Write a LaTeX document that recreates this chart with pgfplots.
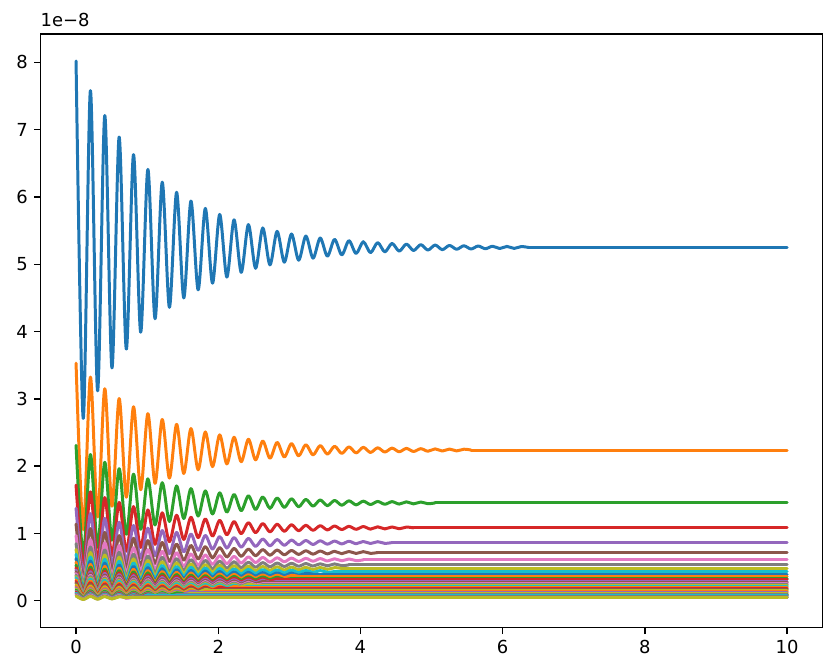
\documentclass[border=0pt]{standalone}
\usepackage{pgfplots}
\pgfplotsset{compat=1.18}
\usepackage{fontspec}
\setmainfont{DejaVu Sans}
\definecolor{C0}{HTML}{1F77B4}
\definecolor{C1}{HTML}{FF7F0E}
\definecolor{C2}{HTML}{2CA02C}
\definecolor{C3}{HTML}{D62728}
\definecolor{C4}{HTML}{9467BD}
\definecolor{C5}{HTML}{8C564B}
\definecolor{C6}{HTML}{E377C2}
\definecolor{C7}{HTML}{7F7F7F}
\definecolor{C8}{HTML}{BCBD22}
\definecolor{C9}{HTML}{17BECF}
% #1 colour, #2 oscillating part, #3 x where it settles, #4 settled value
\newcommand{\curve}[4]{%
  \addplot[#1,smooth,tension=0.5] coordinates {#2};
  \addplot[#1] coordinates {(#3,#4) (10,#4)};
}
\begin{document}
\begin{tikzpicture}
\begin{axis}[name=ax, scale only axis, width=782.1bp, height=593.6bp,
  xmin=-0.5, xmax=10.5, ymin=-0.40, ymax=8.42,
  xtick={0,2,4,6,8,10}, ytick={0,1,2,3,4,5,6,7,8},
  tick align=outside, tickpos=left, major tick length=6.3bp,
  tick style={line width=1.4pt, black}, axis line style={line width=1.4pt},
  /pgf/number format/assume math mode=true,
  ticklabel style={font=\fontsize{18}{20}\selectfont, inner sep=0pt},
  xticklabel style={yshift=-6.3bp}, yticklabel style={xshift=-6.3bp},
  every axis plot/.append style={line width=3pt, line join=round, line cap=round},
]
\curve{C0}{(0,8.02) (0.101,2.71) (0.202,7.58) (0.303,3.12) (0.404,7.21) (0.505,3.46) (0.606,6.89) (0.707,3.74) (0.808,6.63) (0.909,3.99) (1.01,6.41) (1.111,4.19) (1.212,6.22) (1.313,4.36) (1.414,6.07) (1.515,4.50) (1.616,5.94) (1.717,4.62) (1.818,5.83) (1.919,4.72) (2.02,5.74) (2.121,4.81) (2.222,5.66) (2.323,4.88) (2.424,5.59) (2.525,4.94) (2.626,5.54) (2.727,4.99) (2.828,5.49) (2.929,5.03) (3.03,5.45) (3.131,5.06) (3.232,5.42) (3.333,5.09) (3.434,5.39) (3.535,5.12) (3.636,5.37) (3.737,5.14) (3.838,5.35) (3.939,5.16) (4.04,5.335) (4.141,5.172) (4.242,5.322) (4.343,5.184) (4.444,5.31) (4.545,5.195) (4.646,5.30) (4.747,5.204) (4.848,5.292) (4.949,5.211) (5.05,5.286) (5.151,5.217) (5.252,5.28) (5.353,5.223) (5.454,5.275) (5.555,5.227) (5.656,5.271) (5.757,5.231) (5.858,5.268) (5.959,5.234) (6.06,5.265) (6.161,5.236) (6.262,5.263) (6.363,5.25)}{6.363}{5.25}
\curve{C1}{(0,3.53) (0.101,1.058) (0.202,3.324) (0.303,1.247) (0.404,3.151) (0.505,1.405) (0.606,3.005) (0.707,1.539) (0.808,2.883) (0.909,1.651) (1.01,2.78) (1.111,1.745) (1.212,2.694) (1.313,1.824) (1.414,2.621) (1.515,1.891) (1.616,2.56) (1.717,1.946) (1.818,2.509) (1.919,1.993) (2.02,2.466) (2.121,2.033) (2.222,2.43) (2.323,2.066) (2.424,2.40) (2.525,2.094) (2.626,2.374) (2.727,2.117) (2.828,2.353) (2.929,2.137) (3.03,2.335) (3.131,2.153) (3.232,2.32) (3.333,2.167) (3.434,2.307) (3.535,2.179) (3.636,2.296) (3.737,2.189) (3.838,2.287) (3.939,2.197) (4.04,2.28) (4.141,2.204) (4.242,2.273) (4.343,2.21) (4.444,2.268) (4.545,2.214) (4.646,2.264) (4.747,2.218) (4.848,2.26) (4.949,2.222) (5.05,2.257) (5.151,2.225) (5.252,2.254) (5.353,2.227) (5.454,2.252) (5.555,2.24)}{5.555}{2.24}
\curve{C2}{(0,2.31) (0.101,0.669) (0.202,2.173) (0.303,0.795) (0.404,2.058) (0.505,0.90) (0.606,1.962) (0.707,0.989) (0.808,1.881) (0.909,1.063) (1.01,1.812) (1.111,1.126) (1.212,1.755) (1.313,1.178) (1.414,1.707) (1.515,1.222) (1.616,1.667) (1.717,1.259) (1.818,1.633) (1.919,1.29) (2.02,1.604) (2.121,1.317) (2.222,1.58) (2.323,1.339) (2.424,1.56) (2.525,1.357) (2.626,1.543) (2.727,1.373) (2.828,1.529) (2.929,1.386) (3.03,1.517) (3.131,1.396) (3.232,1.507) (3.333,1.406) (3.434,1.498) (3.535,1.413) (3.636,1.491) (3.737,1.42) (3.838,1.485) (3.939,1.425) (4.04,1.48) (4.141,1.43) (4.242,1.476) (4.343,1.434) (4.444,1.473) (4.545,1.437) (4.646,1.47) (4.747,1.44) (4.848,1.467) (4.949,1.442) (5.05,1.454)}{5.05}{1.454}
\curve{C3}{(0,1.72) (0.101,0.499) (0.202,1.618) (0.303,0.592) (0.404,1.533) (0.505,0.671) (0.606,1.461) (0.707,0.737) (0.808,1.40) (0.909,0.792) (1.01,1.35) (1.111,0.839) (1.212,1.307) (1.313,0.878) (1.414,1.271) (1.515,0.911) (1.616,1.241) (1.717,0.938) (1.818,1.216) (1.919,0.961) (2.02,1.195) (2.121,0.981) (2.222,1.177) (2.323,0.997) (2.424,1.162) (2.525,1.011) (2.626,1.149) (2.727,1.022) (2.828,1.139) (2.929,1.032) (3.03,1.13) (3.131,1.04) (3.232,1.122) (3.333,1.047) (3.434,1.116) (3.535,1.053) (3.636,1.111) (3.737,1.058) (3.838,1.106) (3.939,1.062) (4.04,1.103) (4.141,1.065) (4.242,1.099) (4.343,1.068) (4.444,1.097) (4.545,1.07) (4.646,1.095) (4.747,1.083)}{4.747}{1.083}
\curve{C4}{(0,1.375) (0.101,0.398) (0.202,1.294) (0.303,0.472) (0.404,1.225) (0.505,0.535) (0.606,1.168) (0.707,0.588) (0.808,1.119) (0.909,0.632) (1.01,1.079) (1.111,0.669) (1.212,1.044) (1.313,0.701) (1.414,1.016) (1.515,0.727) (1.616,0.992) (1.717,0.749) (1.818,0.971) (1.919,0.768) (2.02,0.954) (2.121,0.783) (2.222,0.94) (2.323,0.796) (2.424,0.928) (2.525,0.807) (2.626,0.918) (2.727,0.816) (2.828,0.91) (2.929,0.824) (3.03,0.902) (3.131,0.831) (3.232,0.896) (3.333,0.836) (3.434,0.891) (3.535,0.841) (3.636,0.887) (3.737,0.845) (3.838,0.884) (3.939,0.848) (4.04,0.881) (4.141,0.851) (4.242,0.878) (4.343,0.853) (4.444,0.865)}{4.444}{0.865}
\curve{C5}{(0,1.14) (0.101,0.329) (0.202,1.072) (0.303,0.391) (0.404,1.016) (0.505,0.443) (0.606,0.968) (0.707,0.487) (0.808,0.928) (0.909,0.524) (1.01,0.894) (1.111,0.555) (1.212,0.866) (1.313,0.581) (1.414,0.842) (1.515,0.602) (1.616,0.822) (1.717,0.621) (1.818,0.805) (1.919,0.636) (2.02,0.791) (2.121,0.649) (2.222,0.779) (2.323,0.66) (2.424,0.769) (2.525,0.669) (2.626,0.761) (2.727,0.677) (2.828,0.754) (2.929,0.683) (3.03,0.748) (3.131,0.689) (3.232,0.743) (3.333,0.693) (3.434,0.739) (3.535,0.697) (3.636,0.735) (3.737,0.70) (3.838,0.733) (3.939,0.703) (4.04,0.73) (4.141,0.705) (4.242,0.717)}{4.242}{0.717}
\curve{C6}{(0,0.968) (0.101,0.278) (0.202,0.911) (0.303,0.331) (0.404,0.862) (0.505,0.375) (0.606,0.822) (0.707,0.412) (0.808,0.787) (0.909,0.444) (1.01,0.759) (1.111,0.47) (1.212,0.735) (1.313,0.492) (1.414,0.714) (1.515,0.511) (1.616,0.697) (1.717,0.526) (1.818,0.683) (1.919,0.539) (2.02,0.671) (2.121,0.55) (2.222,0.661) (2.323,0.559) (2.424,0.653) (2.525,0.567) (2.626,0.645) (2.727,0.574) (2.828,0.639) (2.929,0.579) (3.03,0.634) (3.131,0.584) (3.232,0.63) (3.333,0.588) (3.434,0.627) (3.535,0.591) (3.636,0.624) (3.737,0.594) (3.838,0.621) (3.939,0.596) (4.04,0.608)}{4.04}{0.608}
\curve{C7}{(0,0.849) (0.101,0.245) (0.202,0.799) (0.303,0.291) (0.404,0.756) (0.505,0.33) (0.606,0.721) (0.707,0.363) (0.808,0.691) (0.909,0.39) (1.01,0.666) (1.111,0.413) (1.212,0.645) (1.313,0.432) (1.414,0.627) (1.515,0.449) (1.616,0.612) (1.717,0.462) (1.818,0.60) (1.919,0.474) (2.02,0.589) (2.121,0.483) (2.222,0.58) (2.323,0.491) (2.424,0.573) (2.525,0.498) (2.626,0.567) (2.727,0.504) (2.828,0.561) (2.929,0.509) (3.03,0.557) (3.131,0.513) (3.232,0.553) (3.333,0.516) (3.434,0.55) (3.535,0.519) (3.636,0.548) (3.737,0.521) (3.838,0.534)}{3.838}{0.534}
\curve{C8}{(0,0.763) (0.101,0.221) (0.202,0.718) (0.303,0.262) (0.404,0.68) (0.505,0.297) (0.606,0.648) (0.707,0.326) (0.808,0.621) (0.909,0.351) (1.01,0.599) (1.111,0.371) (1.212,0.58) (1.313,0.389) (1.414,0.564) (1.515,0.403) (1.616,0.55) (1.717,0.416) (1.818,0.539) (1.919,0.426) (2.02,0.53) (2.121,0.435) (2.222,0.522) (2.323,0.442) (2.424,0.515) (2.525,0.448) (2.626,0.509) (2.727,0.453) (2.828,0.505) (2.929,0.457) (3.03,0.501) (3.131,0.461) (3.232,0.497) (3.333,0.464) (3.434,0.495) (3.535,0.467) (3.636,0.492) (3.737,0.48)}{3.737}{0.48}
\curve{C9}{(0,0.691) (0.101,0.2) (0.202,0.65) (0.303,0.238) (0.404,0.616) (0.505,0.269) (0.606,0.587) (0.707,0.296) (0.808,0.563) (0.909,0.318) (1.01,0.542) (1.111,0.337) (1.212,0.525) (1.313,0.353) (1.414,0.511) (1.515,0.366) (1.616,0.499) (1.717,0.377) (1.818,0.488) (1.919,0.386) (2.02,0.48) (2.121,0.394) (2.222,0.473) (2.323,0.401) (2.424,0.467) (2.525,0.406) (2.626,0.462) (2.727,0.411) (2.828,0.457) (2.929,0.415) (3.03,0.454) (3.131,0.418) (3.232,0.451) (3.333,0.421) (3.434,0.448) (3.535,0.423) (3.636,0.435)}{3.636}{0.435}
\curve{C0}{(0,0.627) (0.101,0.18) (0.202,0.59) (0.303,0.215) (0.404,0.559) (0.505,0.243) (0.606,0.532) (0.707,0.267) (0.808,0.51) (0.909,0.288) (1.01,0.492) (1.111,0.305) (1.212,0.476) (1.313,0.319) (1.414,0.463) (1.515,0.331) (1.616,0.452) (1.717,0.341) (1.818,0.443) (1.919,0.35) (2.02,0.435) (2.121,0.357) (2.222,0.428) (2.323,0.363) (2.424,0.423) (2.525,0.368) (2.626,0.418) (2.727,0.372) (2.828,0.414) (2.929,0.375) (3.03,0.411) (3.131,0.378) (3.232,0.408) (3.333,0.394)}{3.333}{0.394}
\curve{C1}{(0,0.574) (0.101,0.166) (0.202,0.54) (0.303,0.197) (0.404,0.511) (0.505,0.223) (0.606,0.487) (0.707,0.245) (0.808,0.467) (0.909,0.264) (1.01,0.45) (1.111,0.279) (1.212,0.436) (1.313,0.292) (1.414,0.424) (1.515,0.303) (1.616,0.414) (1.717,0.313) (1.818,0.405) (1.919,0.32) (2.02,0.398) (2.121,0.327) (2.222,0.392) (2.323,0.332) (2.424,0.387) (2.525,0.337) (2.626,0.383) (2.727,0.341) (2.828,0.38) (2.929,0.344) (3.03,0.377) (3.131,0.361)}{3.131}{0.361}
\curve{C2}{(0,0.53) (0.101,0.152) (0.202,0.499) (0.303,0.181) (0.404,0.472) (0.505,0.206) (0.606,0.45) (0.707,0.226) (0.808,0.431) (0.909,0.243) (1.01,0.416) (1.111,0.257) (1.212,0.402) (1.313,0.27) (1.414,0.391) (1.515,0.28) (1.616,0.382) (1.717,0.288) (1.818,0.374) (1.919,0.295) (2.02,0.368) (2.121,0.301) (2.222,0.362) (2.323,0.306) (2.424,0.357) (2.525,0.311) (2.626,0.354) (2.727,0.314) (2.828,0.35) (2.929,0.317) (3.03,0.333)}{3.03}{0.333}
\curve{C3}{(0,0.491) (0.101,0.142) (0.202,0.462) (0.303,0.169) (0.404,0.438) (0.505,0.191) (0.606,0.417) (0.707,0.21) (0.808,0.40) (0.909,0.226) (1.01,0.385) (1.111,0.239) (1.212,0.373) (1.313,0.25) (1.414,0.363) (1.515,0.26) (1.616,0.354) (1.717,0.268) (1.818,0.347) (1.919,0.274) (2.02,0.341) (2.121,0.28) (2.222,0.336) (2.323,0.284) (2.424,0.332) (2.525,0.288) (2.626,0.328) (2.727,0.292) (2.828,0.325) (2.929,0.309)}{2.929}{0.309}
\curve{C4}{(0,0.458) (0.101,0.132) (0.202,0.431) (0.303,0.157) (0.404,0.408) (0.505,0.178) (0.606,0.389) (0.707,0.196) (0.808,0.373) (0.909,0.21) (1.01,0.359) (1.111,0.223) (1.212,0.348) (1.313,0.233) (1.414,0.338) (1.515,0.242) (1.616,0.33) (1.717,0.249) (1.818,0.324) (1.919,0.256) (2.02,0.318) (2.121,0.261) (2.222,0.313) (2.323,0.265) (2.424,0.309) (2.525,0.269) (2.626,0.306) (2.727,0.272) (2.828,0.288)}{2.828}{0.288}
\curve{C5}{(0,0.43) (0.101,0.123) (0.202,0.404) (0.303,0.147) (0.404,0.383) (0.505,0.167) (0.606,0.365) (0.707,0.183) (0.808,0.35) (0.909,0.197) (1.01,0.337) (1.111,0.209) (1.212,0.326) (1.313,0.218) (1.414,0.317) (1.515,0.227) (1.616,0.31) (1.717,0.234) (1.818,0.303) (1.919,0.239) (2.02,0.298) (2.121,0.244) (2.222,0.294) (2.323,0.248) (2.424,0.29) (2.525,0.252) (2.626,0.287) (2.727,0.27)}{2.727}{0.27}
\curve{C6}{(0,0.404) (0.101,0.117) (0.202,0.38) (0.303,0.139) (0.404,0.36) (0.505,0.157) (0.606,0.343) (0.707,0.173) (0.808,0.329) (0.909,0.186) (1.01,0.317) (1.111,0.196) (1.212,0.307) (1.313,0.206) (1.414,0.298) (1.515,0.213) (1.616,0.291) (1.717,0.22) (1.818,0.285) (1.919,0.225) (2.02,0.28) (2.121,0.23) (2.222,0.276) (2.323,0.234) (2.424,0.273) (2.525,0.237) (2.626,0.254)}{2.626}{0.254}
\curve{C7}{(0,0.382) (0.101,0.11) (0.202,0.359) (0.303,0.131) (0.404,0.34) (0.505,0.148) (0.606,0.324) (0.707,0.163) (0.808,0.311) (0.909,0.175) (1.01,0.299) (1.111,0.186) (1.212,0.29) (1.313,0.194) (1.414,0.282) (1.515,0.202) (1.616,0.275) (1.717,0.208) (1.818,0.27) (1.919,0.213) (2.02,0.265) (2.121,0.217) (2.222,0.261) (2.323,0.221) (2.424,0.258) (2.525,0.224) (2.626,0.24)}{2.626}{0.24}
\curve{C8}{(0,0.361) (0.101,0.104) (0.202,0.34) (0.303,0.124) (0.404,0.322) (0.505,0.14) (0.606,0.307) (0.707,0.154) (0.808,0.294) (0.909,0.166) (1.01,0.283) (1.111,0.176) (1.212,0.274) (1.313,0.184) (1.414,0.267) (1.515,0.191) (1.616,0.26) (1.717,0.197) (1.818,0.255) (1.919,0.201) (2.02,0.251) (2.121,0.206) (2.222,0.247) (2.323,0.209) (2.424,0.244) (2.525,0.227)}{2.525}{0.227}
\curve{C9}{(0,0.343) (0.101,0.1) (0.202,0.323) (0.303,0.118) (0.404,0.306) (0.505,0.134) (0.606,0.291) (0.707,0.147) (0.808,0.279) (0.909,0.158) (1.01,0.269) (1.111,0.167) (1.212,0.261) (1.313,0.175) (1.414,0.254) (1.515,0.182) (1.616,0.248) (1.717,0.187) (1.818,0.243) (1.919,0.192) (2.02,0.238) (2.121,0.196) (2.222,0.235) (2.323,0.199) (2.424,0.216)}{2.424}{0.216}
\curve{C1}{(0,0.312) (0.101,0.09) (0.202,0.294) (0.303,0.107) (0.404,0.278) (0.505,0.121) (0.606,0.265) (0.707,0.133) (0.808,0.254) (0.909,0.143) (1.01,0.245) (1.111,0.152) (1.212,0.237) (1.313,0.159) (1.414,0.23) (1.515,0.165) (1.616,0.225) (1.717,0.17) (1.818,0.22) (1.919,0.174) (2.02,0.216) (2.121,0.177) (2.222,0.213) (2.323,0.196)}{2.323}{0.196}
\curve{C3}{(0,0.286) (0.101,0.083) (0.202,0.269) (0.303,0.098) (0.404,0.255) (0.505,0.111) (0.606,0.243) (0.707,0.122) (0.808,0.233) (0.909,0.132) (1.01,0.224) (1.111,0.139) (1.212,0.217) (1.313,0.146) (1.414,0.211) (1.515,0.151) (1.616,0.206) (1.717,0.156) (1.818,0.202) (1.919,0.16) (2.02,0.199) (2.121,0.18)}{2.121}{0.18}
\curve{C5}{(0,0.264) (0.101,0.076) (0.202,0.248) (0.303,0.091) (0.404,0.235) (0.505,0.103) (0.606,0.224) (0.707,0.113) (0.808,0.215) (0.909,0.121) (1.01,0.207) (1.111,0.128) (1.212,0.201) (1.313,0.134) (1.414,0.195) (1.515,0.14) (1.616,0.19) (1.717,0.144) (1.818,0.186) (1.919,0.147) (2.02,0.166)}{2.02}{0.166}
\curve{C8}{(0,0.237) (0.101,0.068) (0.202,0.223) (0.303,0.081) (0.404,0.211) (0.505,0.092) (0.606,0.201) (0.707,0.101) (0.808,0.193) (0.909,0.109) (1.01,0.186) (1.111,0.115) (1.212,0.18) (1.313,0.121) (1.414,0.175) (1.515,0.125) (1.616,0.171) (1.717,0.129) (1.818,0.167) (1.919,0.149)}{1.919}{0.149}
\curve{C1}{(0,0.215) (0.101,0.062) (0.202,0.202) (0.303,0.073) (0.404,0.192) (0.505,0.083) (0.606,0.182) (0.707,0.092) (0.808,0.175) (0.909,0.099) (1.01,0.169) (1.111,0.104) (1.212,0.163) (1.313,0.109) (1.414,0.159) (1.515,0.113) (1.616,0.155) (1.717,0.117) (1.818,0.135)}{1.818}{0.135}
\curve{C4}{(0,0.196) (0.101,0.056) (0.202,0.184) (0.303,0.067) (0.404,0.175) (0.505,0.076) (0.606,0.166) (0.707,0.083) (0.808,0.159) (0.909,0.09) (1.01,0.154) (1.111,0.095) (1.212,0.149) (1.313,0.1) (1.414,0.145) (1.515,0.103) (1.616,0.141) (1.717,0.123)}{1.717}{0.123}
\curve{C8}{(0,0.176) (0.101,0.051) (0.202,0.166) (0.303,0.061) (0.404,0.157) (0.505,0.069) (0.606,0.15) (0.707,0.076) (0.808,0.143) (0.909,0.081) (1.01,0.138) (1.111,0.086) (1.212,0.134) (1.313,0.09) (1.414,0.13) (1.515,0.093) (1.616,0.111)}{1.616}{0.111}
\curve{C2}{(0,0.159) (0.101,0.046) (0.202,0.15) (0.303,0.055) (0.404,0.142) (0.505,0.062) (0.606,0.135) (0.707,0.068) (0.808,0.129) (0.909,0.073) (1.01,0.125) (1.111,0.077) (1.212,0.121) (1.313,0.081) (1.414,0.117) (1.515,0.1)}{1.515}{0.1}
\curve{C7}{(0,0.143) (0.101,0.041) (0.202,0.135) (0.303,0.049) (0.404,0.127) (0.505,0.056) (0.606,0.121) (0.707,0.061) (0.808,0.116) (0.909,0.066) (1.01,0.112) (1.111,0.07) (1.212,0.109) (1.313,0.073) (1.414,0.09)}{1.414}{0.09}
\curve{C3}{(0,0.127) (0.101,0.037) (0.202,0.12) (0.303,0.044) (0.404,0.113) (0.505,0.05) (0.606,0.108) (0.707,0.054) (0.808,0.103) (0.909,0.059) (1.01,0.1) (1.111,0.062) (1.212,0.08)}{1.212}{0.08}
\curve{C9}{(0,0.114) (0.101,0.034) (0.202,0.107) (0.303,0.04) (0.404,0.102) (0.505,0.045) (0.606,0.097) (0.707,0.049) (0.808,0.093) (0.909,0.053) (1.01,0.09) (1.111,0.072)}{1.111}{0.072}
\curve{C7}{(0,0.1) (0.101,0.029) (0.202,0.094) (0.303,0.035) (0.404,0.089) (0.505,0.039) (0.606,0.085) (0.707,0.043) (0.808,0.081) (0.909,0.063)}{0.909}{0.063}
\curve{C6}{(0,0.089) (0.101,0.026) (0.202,0.084) (0.303,0.031) (0.404,0.079) (0.505,0.035) (0.606,0.076) (0.707,0.038) (0.808,0.056)}{0.808}{0.056}
\curve{C7}{(0,0.078) (0.101,0.022) (0.202,0.073) (0.303,0.027) (0.404,0.07) (0.505,0.03) (0.606,0.066) (0.707,0.049)}{0.707}{0.049}
\curve{C8}{(0,0.07) (0.101,0.02) (0.202,0.065) (0.303,0.024) (0.404,0.062) (0.505,0.027) (0.606,0.059) (0.707,0.0435)}{0.707}{0.0435}
\end{axis}
\node[anchor=base west, inner sep=0pt, font=\fontsize{18}{20}\selectfont] at ([yshift=7.5bp]ax.north west) {1e−8};
\pgfresetboundingbox
\path[use as bounding box] ([shift={(-40.5bp,-33.3bp)}]ax.south west) rectangle ++(829bp,661bp);
\end{tikzpicture}
\end{document}
